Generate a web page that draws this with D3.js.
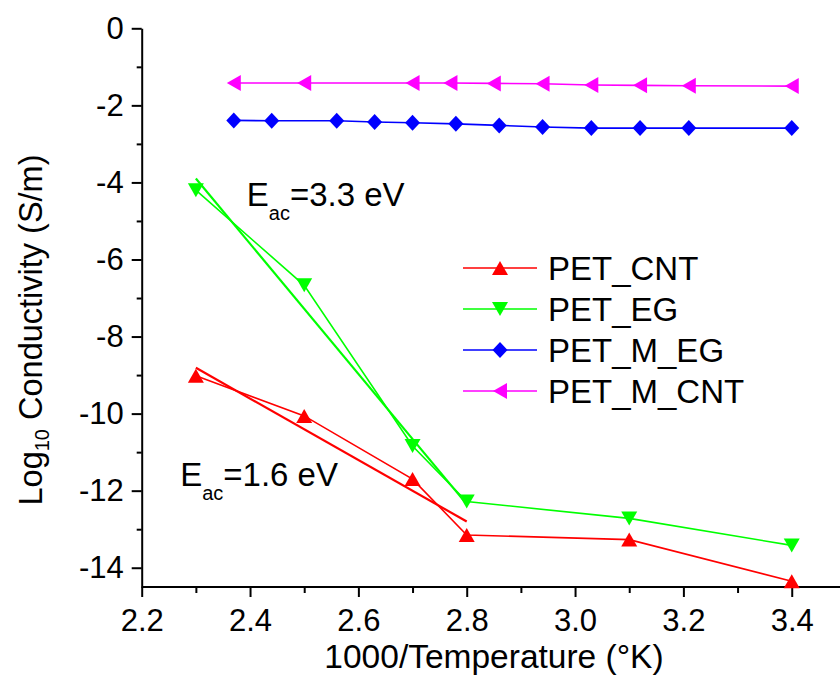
<!DOCTYPE html>
<html><head><meta charset="utf-8">
<script src="https://cdn.jsdelivr.net/npm/d3@7/dist/d3.min.js"></script>
<style>
html,body{margin:0;padding:0;background:#fff;}
text{font-family:"Liberation Sans",Arial,sans-serif;fill:#000;}
</style></head>
<body>
<svg id="chart" width="840" height="678"></svg>
<script>
// ---- data ----
const cntX = [2.3, 2.5, 2.7, 2.8, 3.1, 3.4];
const cntY = [-9.02, -10.06, -11.70, -13.15, -13.27, -14.35];
const egX = [2.3, 2.5, 2.7, 2.8, 3.1, 3.4];
const egY = [-4.20, -6.67, -10.84, -12.28, -12.72, -13.42];
const mEgX = [2.37, 2.44, 2.56, 2.63, 2.70, 2.78, 2.86, 2.94, 3.03, 3.12, 3.21, 3.40];
const mEgY = [-2.39, -2.40, -2.40, -2.43, -2.45, -2.48, -2.52, -2.56, -2.59, -2.59, -2.59, -2.59];
const mCntX = [2.37, 2.50, 2.70, 2.77, 2.85, 2.94, 3.03, 3.12, 3.21, 3.40];
const mCntY = [-1.42, -1.42, -1.42, -1.42, -1.43, -1.44, -1.47, -1.48, -1.49, -1.50];
const fitEgX = [2.3, 2.8];
const fitEgY = [-3.9, -12.35];
const fitCntX = [2.3, 2.8];
const fitCntY = [-8.81, -12.8];
const xMajorTicks = [2.2, 2.4, 2.6, 2.8, 3.0, 3.2, 3.4];
const xMinorTicks = [2.3, 2.5, 2.7, 2.9, 3.1, 3.3];
const yMajorTicks = [0, -2, -4, -6, -8, -10, -12, -14];
const yMinorTicks = [-1, -3, -5, -7, -9, -11, -13];
const seriesNames = ["PET_CNT", "PET_EG", "PET_M_EG", "PET_M_CNT"];
const seriesColors = ["#ff0000", "#00ff00", "#0000ff", "#ff00ff"];
const seriesMarkers = ["up", "down", "diamond", "left"];
const annotations = [
  {x: 2.394, y: -4.61, main: "E", sub: "ac", rest: "=3.3 eV"},
  {x: 2.271, y: -11.88, main: "E", sub: "ac", rest: "=1.6 eV"}
];

// ---- layout ----
const svg = d3.select("#chart");
const x = d3.scaleLinear().domain([2.2, 3.5]).range([141.7, 845.9]);
const y = d3.scaleLinear().domain([-14.5, 0]).range([587, 28.3]);

const FS = 31;

// axes
const xAxis = svg.append("g").attr("transform", `translate(0,${y(-14.5)})`)
  .call(d3.axisBottom(x).tickValues(xMajorTicks).tickSize(10).tickSizeOuter(0).tickPadding(12).tickFormat(d3.format(".1f")));
svg.append("g").attr("transform", `translate(0,${y(-14.5)})`)
  .call(d3.axisBottom(x).tickValues(xMinorTicks).tickSize(6).tickSizeOuter(0).tickFormat(""))
  .select(".domain").remove();
const yAxis = svg.append("g").attr("transform", `translate(${x(2.2)},0)`)
  .call(d3.axisLeft(y).tickValues(yMajorTicks).tickSize(10).tickSizeOuter(0).tickPadding(8).tickFormat(d3.format("d")));
svg.append("g").attr("transform", `translate(${x(2.2)},0)`)
  .call(d3.axisLeft(y).tickValues(yMinorTicks).tickSize(5).tickSizeOuter(0).tickFormat(""))
  .select(".domain").remove();
svg.selectAll(".domain, .tick line").attr("stroke", "#000").attr("stroke-width", 2);
xAxis.select(".domain").attr("d", `M${x(2.2)},0H840`);
svg.selectAll(".tick text").attr("font-size", FS).attr("font-family", '"Liberation Sans",Arial,sans-serif').attr("fill", "#000");
yAxis.selectAll(".tick text").text(d => d === 0 ? "0" : "-" + Math.abs(d));

// axis titles
svg.append("text").attr("x", 494).attr("y", 668).attr("text-anchor", "middle")
  .attr("font-size", 33.5).text("1000/Temperature (°K)");
const yt = svg.append("text").attr("transform", "translate(42,330) rotate(-90)")
  .attr("text-anchor", "middle").attr("font-size", 32.5);
yt.append("tspan").text("Log");
yt.append("tspan").attr("font-size", 20).attr("dy", 7).text("10");
yt.append("tspan").attr("dy", -7).text(" Conductivity (S/m)");

// marker shapes
function markerPath(kind) {
  const w = 8, h = 7;
  if (kind === "up") return `M0,${-h}L${w},${h}L${-w},${h}Z`;
  if (kind === "down") return `M0,${h}L${w},${-h}L${-w},${-h}Z`;
  if (kind === "left") return `M${-h},0L${h},${-w}L${h},${w}Z`;
  return `M0,-8L7.5,0L0,8L-7.5,0Z`;
}

const line = d3.line().x(d => x(d[0])).y(d => y(d[1]));

// fit lines
const fits = [[fitCntX, fitCntY, seriesColors[0]], [fitEgX, fitEgY, seriesColors[1]]];
fits.forEach(([fx, fy, c]) => {
  svg.append("path").datum(fx.map((v, i) => [v, fy[i]]))
    .attr("d", line).attr("fill", "none").attr("stroke", c).attr("stroke-width", 2.2);
});

// series
const series = [[cntX, cntY], [egX, egY], [mEgX, mEgY], [mCntX, mCntY]];
series.forEach(([sx, sy], k) => {
  const pts = sx.map((v, i) => [v, sy[i]]);
  svg.append("path").datum(pts).attr("d", line).attr("fill", "none")
    .attr("stroke", seriesColors[k]).attr("stroke-width", 1.6);
  svg.append("g").selectAll("path").data(pts).join("path")
    .attr("transform", d => `translate(${x(d[0])},${y(d[1])})`)
    .attr("d", markerPath(seriesMarkers[k])).attr("fill", seriesColors[k]);
});

// annotations
annotations.forEach(a => {
  const t = svg.append("text").attr("x", x(a.x)).attr("y", y(a.y)).attr("font-size", 33);
  t.append("tspan").text(a.main);
  t.append("tspan").attr("font-size", 20).attr("dy", 14).text(a.sub);
  t.append("tspan").attr("dy", -14).text(a.rest);
});

// legend
const legendRows = [268, 309, 350, 391];
seriesNames.forEach((name, k) => {
  const ly = legendRows[k];
  svg.append("line").attr("x1", 463).attr("x2", 537).attr("y1", ly).attr("y2", ly)
    .attr("stroke", seriesColors[k]).attr("stroke-width", 1.6);
  svg.append("path").attr("transform", `translate(500,${ly})`)
    .attr("d", markerPath(seriesMarkers[k])).attr("fill", seriesColors[k]);
  svg.append("text").attr("x", 548).attr("y", ly + 12).attr("font-size", 33).text(name);
});
</script>
</body></html>
